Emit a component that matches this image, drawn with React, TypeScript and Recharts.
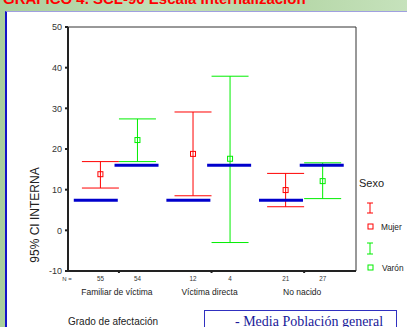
import React from 'react';
import { ComposedChart, Scatter, XAxis, YAxis, ErrorBar, ReferenceArea } from 'recharts';

const categories = ['Familiar de víctima', 'Víctima directa', 'No nacido'];
const nMujer = [55, 12, 21];
const nVaron = [54, 4, 27];
const mujerMean = [13.8, 18.8, 9.9];
const mujerLow = [10.4, 8.5, 5.8];
const mujerHigh = [16.9, 29.1, 14.0];
const varonMean = [22.2, 17.6, 12.1];
const varonLow = [16.9, -3.0, 7.8];
const varonHigh = [27.4, 37.9, 16.6];
const poblacionMujer = [7.4, 7.4, 7.4];
const poblacionVaron = [16.0, 16.0, 16.0];
const yTicks = [-10, 0, 10, 20, 30, 40, 50];
const xTicks = [1, 2, 3];

const RED = '#ff0000';
const GREEN = '#00ee00';
const BLUE = '#0000cc';

const mujerData = categories.map((c, i) => ({
  x: i + 1 - 0.2,
  y: mujerMean[i],
  err: [mujerMean[i] - mujerLow[i], mujerHigh[i] - mujerMean[i]],
}));
const varonData = categories.map((c, i) => ({
  x: i + 1 + 0.2,
  y: varonMean[i],
  err: [varonMean[i] - varonLow[i], varonHigh[i] - varonMean[i]],
}));
const popMujerData = categories.map((c, i) => ({ x: i + 1 - 0.25, y: poblacionMujer[i] }));
const popVaronData = categories.map((c, i) => ({ x: i + 1 + 0.19, y: poblacionVaron[i] }));

const squareShape = (color: string) => (p: any) => (
  <rect x={p.cx - 2.5} y={p.cy - 2.5} width={5} height={5} fill="none" stroke={color} strokeWidth={1} />
);
const blueLine = (p: any) => (
  <line x1={p.cx - 22} x2={p.cx + 22} y1={p.cy} y2={p.cy} stroke={BLUE} strokeWidth={3} />
);

const CatTick = (props: any) => {
  const { x, y, payload } = props;
  const i = xTicks.indexOf(payload.value);
  if (i < 0) return null;
  return (
    <g fontFamily="Arial, 'Liberation Sans', sans-serif" fill="#333">
      <text x={x - 18.5} y={y + 6} textAnchor="middle" fontSize={6.3}>{nMujer[i]}</text>
      <text x={x + 18.5} y={y + 6} textAnchor="middle" fontSize={6.3}>{nVaron[i]}</text>
      <text x={x - 2} y={y + 20} textAnchor="middle" fontSize={8.5} fill="#222">{categories[i]}</text>
    </g>
  );
};

export default function App() {
  return (
    <div style={{ position: 'absolute', left: 0, top: 0, width: 407, height: 327, overflow: 'hidden',
      background: 'linear-gradient(90deg, #a9cf9c 0%, #c2dfb6 40%, #b4d6a6 70%, #c6e2bc 100%)' }}>
      <div style={{ position: 'absolute', left: 5, top: 11, right: 0, bottom: 0, background: '#fff',
        borderLeft: '2px solid #1414c8', borderTop: '1px solid #a0a0e0' }} />
      <div style={{ position: 'absolute', left: 0, top: 0 }}>
        <ComposedChart width={407} height={327} margin={{ top: 27, right: 51, bottom: 26, left: 0 }}>
          <XAxis dataKey="x" type="number" domain={[0.45, 3.56]} allowDataOverflow ticks={xTicks}
            tick={<CatTick />} tickSize={2} tickMargin={2} height={30}
            axisLine={{ stroke: '#222', strokeWidth: 2 }} tickLine={{ stroke: '#222', strokeWidth: 2 }} />
          <YAxis dataKey="y" type="number" domain={[-10, 50]} allowDataOverflow ticks={yTicks} width={68}
            tickSize={3} tickMargin={3}
            tick={{ fontSize: 9, fill: '#333', fontFamily: "Arial, 'Liberation Sans', sans-serif" }}
            axisLine={{ stroke: '#222', strokeWidth: 2 }} tickLine={{ stroke: '#222', strokeWidth: 2 }} />
          <ReferenceArea x1={0.45} x2={3.56} y1={-10} y2={50} fill="none" stroke="#333" strokeWidth={1} ifOverflow="visible" />
          <Scatter data={mujerData} shape={squareShape(RED)} isAnimationActive={false}>
            <ErrorBar dataKey="err" direction="y" width={18.5} stroke={RED} strokeWidth={1} isAnimationActive={false} />
          </Scatter>
          <Scatter data={varonData} shape={squareShape(GREEN)} isAnimationActive={false}>
            <ErrorBar dataKey="err" direction="y" width={18.5} stroke={GREEN} strokeWidth={1} isAnimationActive={false} />
          </Scatter>
          <Scatter data={popMujerData} shape={blueLine} isAnimationActive={false} />
          <Scatter data={popVaronData} shape={blueLine} isAnimationActive={false} />
        </ComposedChart>
      </div>
      <svg width={407} height={327} style={{ position: 'absolute', left: 0, top: 0, pointerEvents: 'none' }}
        fontFamily="Arial, 'Liberation Sans', sans-serif">
        <text x={3} y={4} fontSize={15} fontWeight="bold" fill="#ff0000">GRAFICO 4. SCL-90 Escala Internalización</text>
        <text x={67} y={281} fontSize={6} textAnchor="middle" fill="#333">N =</text>
        <text transform="translate(39,215) rotate(-90)" fontSize={12} textAnchor="middle" fill="#222">95% CI INTERNA</text>
        <text x={68} y={325} fontSize={10} fill="#222">Grado de afectación</text>
        <text x={359} y={187} fontSize={11} fill="#222">Sexo</text>
        <g stroke={RED} strokeWidth={1} fill="none">
          <line x1={370} x2={370} y1={203} y2={213} />
          <line x1={367} x2={373} y1={203} y2={203} />
          <line x1={367} x2={373} y1={213} y2={213} />
          <rect x={368} y={224} width={5} height={5} />
        </g>
        <text x={381} y={229.5} fontSize={8.3} fill="#222">Mujer</text>
        <g stroke={GREEN} strokeWidth={1} fill="none">
          <line x1={370} x2={370} y1={243} y2={254} />
          <line x1={367} x2={373} y1={243} y2={243} />
          <line x1={367} x2={373} y1={254} y2={254} />
          <rect x={368} y={265} width={5} height={5} />
        </g>
        <text x={382} y={271} fontSize={8.3} fill="#222">Varón</text>
        <rect x={204.5} y={310.5} width={192} height={20} fill="#fff" stroke="#3030c0" strokeWidth={1} />
        <text x={235} y={325.5} fontSize={14} fill="#1a1a9a" fontFamily="'Liberation Serif', 'Times New Roman', serif">- Media Población general</text>
      </svg>
    </div>
  );
}
